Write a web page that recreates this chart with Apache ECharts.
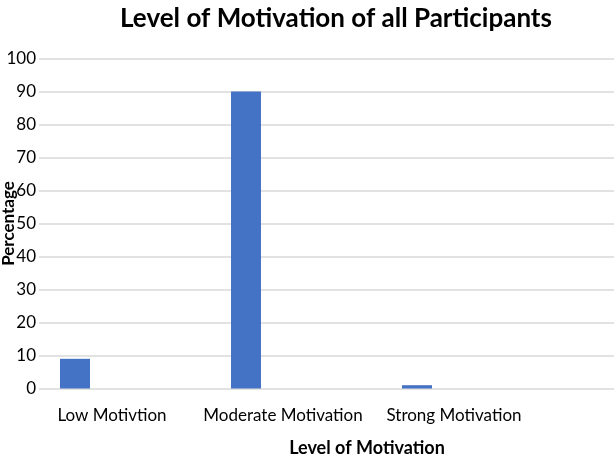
<!DOCTYPE html>
<html>
<head>
<meta charset="utf-8">
<script src="https://cdn.jsdelivr.net/npm/echarts@6/dist/echarts.min.js"></script>
<style>
  html, body { margin: 0; padding: 0; background: #fff; }
  #chart { width: 614px; height: 456px; }
</style>
</head>
<body>
<div id="chart"></div>
<script>
// categories (the 4th slot is empty in the original, plot runs past the crop)
const categories = ['Low Motivtion', 'Moderate Motivation', 'Strong Motivation', '']
const percentValues = [9, 90, 1, null]
// two empty placeholder series, as in the source workbook layout
const emptyValues = [null, null, null, null]
const yTicks = { min: 0, max: 100, interval: 10 }

const chart = echarts.init(document.getElementById('chart'))
const font = 'Lato'

const options = {
  animation: false,
  title: {
    text: 'Level of Motivation of all Participants',
    left: 331,
    top: 1,
    textAlign: 'center',
    textStyle: { fontFamily: font, fontWeight: 'bold', fontSize: 26, color: '#000' }
  },
  grid: { left: 39, width: 684, top: 58.5, bottom: 67.5, containLabel: false, outerBoundsMode: 'none' },
  xAxis: {
    type: 'category',
    data: categories,
    name: 'Level of Motivation',
    nameLocation: 'middle',
    nameGap: 51,
    nameMoveOverlap: false,
    nameTextStyle: { fontFamily: font, fontWeight: 'bold', fontSize: 18, color: '#000', padding: [0, 28, 0, 0] },
    axisLine: { show: false },
    axisTick: { show: false },
    axisLabel: { fontFamily: font, fontSize: 17, color: '#000', margin: 19, padding: [0, 25, 0, 0], interval: 0 }
  },
  yAxis: {
    type: 'value',
    min: yTicks.min,
    max: yTicks.max,
    interval: yTicks.interval,
    name: 'Percentage',
    nameLocation: 'middle',
    nameGap: 22,
    nameMoveOverlap: false,
    nameTextStyle: { fontFamily: font, fontWeight: 'bold', fontSize: 17, color: '#000' },
    axisLine: { show: false },
    axisTick: { show: false },
    axisLabel: { fontFamily: font, fontSize: 17, color: '#000', margin: 3 },
    splitLine: { lineStyle: { color: '#d9d9d9', width: 1.5 } }
  },
  series: [
    { type: 'bar', data: percentValues, barWidth: 30, barGap: '65%', itemStyle: { color: '#4472c4' } },
    { type: 'bar', data: emptyValues, barWidth: 30, barGap: '65%' },
    { type: 'bar', data: emptyValues, barWidth: 30, barGap: '65%' }
  ]
}
chart.setOption(options)
</script>
</body>
</html>
